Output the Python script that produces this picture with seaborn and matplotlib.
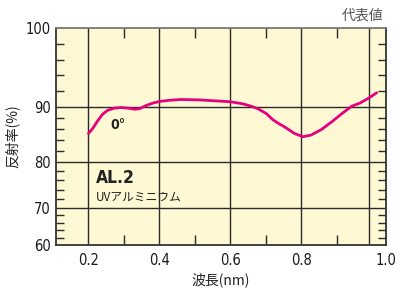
import numpy as np
import pandas as pd
import matplotlib
matplotlib.use("Agg")
import matplotlib.pyplot as plt
import seaborn as sns

# reflectance curve (wavelength, %)
wavelength = [0.200, 0.212, 0.226, 0.240, 0.254, 0.273, 0.292, 0.311, 0.330,
              0.344, 0.363, 0.382, 0.400, 0.428, 0.461, 0.513, 0.569, 0.602,
              0.635, 0.658, 0.677, 0.701, 0.719, 0.738, 0.752, 0.780, 0.804,
              0.827, 0.856, 0.885, 0.910, 0.930, 0.947, 0.964, 0.981]
reflectance = [85.2, 86.1, 87.5, 88.7, 89.4, 89.8, 89.9, 89.8, 89.6,
               89.7, 90.2, 90.5, 90.7, 90.85, 90.95, 90.9, 90.75, 90.65,
               90.4, 90.1, 89.7, 88.8, 87.7, 86.9, 86.4, 85.2, 84.6,
               84.9, 85.9, 87.3, 88.8, 90.1, 90.5, 91.1, 91.8]

x_ticks = [0.2, 0.4, 0.6, 0.8, 1.0]
x_labels = ["0.2", "0.4", "0.6", "0.8", "1.0"]
y_ticks = [60, 70, 80, 90, 100]

# the printed chart uses stretched, piecewise axes
y_knots = [60, 70, 80, 90, 100]
y_span = [0, 37, 83, 138, 217]
x_knots = [0.0, 0.9, 1.0, 1.1]
x_span = [17.5, 337, 386, 435]


def fwd(knots, span):
    return lambda v: np.interp(v, knots, span)


def inv(knots, span):
    return lambda v: np.interp(v, span, knots)


sns.set_theme(style="ticks")
plt.rcParams["font.family"] = ["Noto Sans CJK JP", "DejaVu Sans"]

df = pd.DataFrame({"wl": wavelength, "r": reflectance})

fig = plt.figure(figsize=(4.04, 2.91), dpi=100)
ax = fig.add_axes([56 / 404, 46 / 291, 330 / 404, 217 / 291])
ax.set_facecolor("#FFF8D4")

ax.set_xscale("function", functions=(fwd(x_knots, x_span), inv(x_knots, x_span)))
ax.set_yscale("function", functions=(fwd(y_knots, y_span), inv(y_knots, y_span)))

grid_c = "#2b2b2b"
for gx in [0.2, 0.4, 0.6, 0.8, 0.965]:
    ax.axvline(gx, color=grid_c, lw=1.0, zorder=1)
for gy in [70, 80, 90]:
    ax.axhline(gy, color=grid_c, lw=1.0, zorder=1)

sns.lineplot(data=df, x="wl", y="r", ax=ax, color="#E5007E", lw=2.0, zorder=3)
ax.lines[-1].set_solid_joinstyle("round")
ax.lines[-1].set_solid_capstyle("round")

ax.set_xlim(0.1085, 1.0)
ax.set_ylim(60, 100)

ax.set_xticks(x_ticks)
ax.set_xticklabels(x_labels)
ax.set_xticks([0.3, 0.5, 0.7, 0.9], minor=True)
ax.set_yticks(y_ticks)
ax.set_yticks([v for v in range(62, 100, 2) if v % 10], minor=True)

ax.tick_params(axis="both", which="major", length=0, labelsize=10.5, colors="#1a1a1a")
ax.tick_params(axis="x", which="major", pad=6)
ax.tick_params(axis="y", which="major", pad=4)
ax.tick_params(axis="x", which="minor", direction="in", length=7.5, width=1.0,
               top=True, bottom=True, color=grid_c)
ax.tick_params(axis="y", which="minor", direction="in", length=5.5, width=1.0,
               left=True, right=True, color=grid_c)
for lab in ax.get_xticklabels() + ax.get_yticklabels():
    lab.set_family("DejaVu Sans")
    lab.set_stretch("condensed")

for s in ax.spines.values():
    s.set_color("#333333")
    s.set_linewidth(1.3)
ax.spines["top"].set_color("#777777")

ax.set_xlabel("波長(nm)", fontsize=10, color="#222222")
ax.set_ylabel("反射率(%)", fontsize=10, color="#222222")
ax.xaxis.set_label_coords(0.5, -0.125)
ax.yaxis.set_label_coords(-0.11, 0.5)

ax.text(0.262, 86.7, "0°", fontsize=10, fontweight="bold", ha="left", va="center",
        color="#222222", family="DejaVu Sans", stretch="condensed")
ax.text(0.222, 76.6, "AL.2", fontsize=12.5, fontweight="bold", ha="left", va="center",
        color="#222222", family="DejaVu Sans", stretch="condensed")
ax.text(0.222, 72.4, "UVアルミニウム", fontsize=8.5, ha="left", va="center", color="#222222")

fig.text(383 / 404, 1 - 16 / 291, "代表値", fontsize=10, ha="right", va="center", color="#555555")

fig.savefig("out.png", dpi=100)
